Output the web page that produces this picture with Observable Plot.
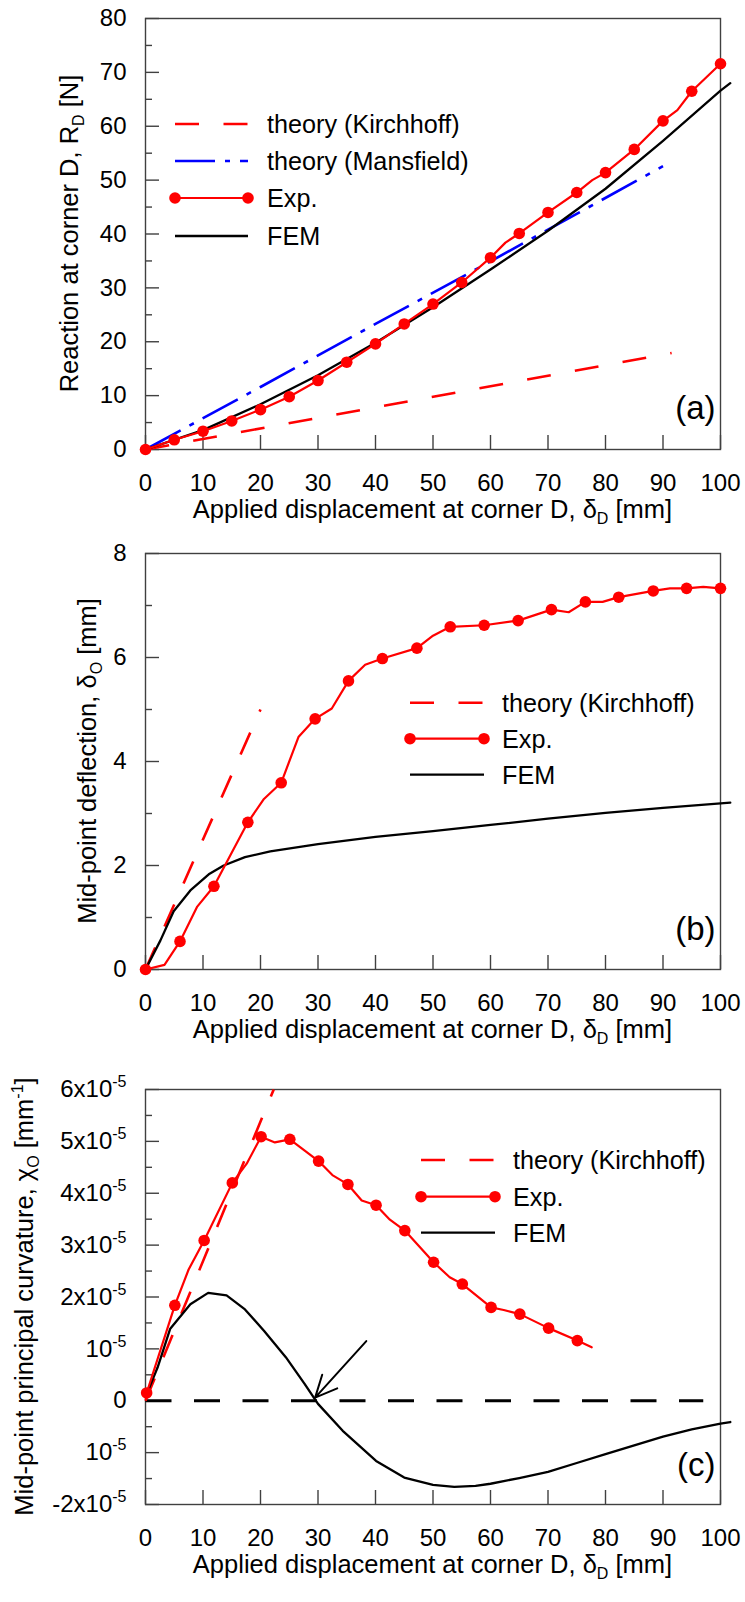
<!DOCTYPE html>
<html><head><meta charset="utf-8">
<script src="https://cdn.jsdelivr.net/npm/d3@7"></script>
<script src="https://cdn.jsdelivr.net/npm/@observablehq/plot@0.6"></script>
<style>
body{margin:0;background:#fff;}
svg{display:block;}
</style></head><body><div id="chart"></div>
<script>
// ---------------- data ----------------
const xTicks = [0,10,20,30,40,50,60,70,80,90,100];

// Panel (a): reaction at corner D [N]
const aYMajor = [0,10,20,30,40,50,60,70,80];
const aYMinor = [5,15,25,35,45,55,65,75];
const aExpX = [0,5,10,15,20,25,30,35,40,45,50,55,60,65,70,75,80,85,90,95,100];
const aExpY = [0,1.8,3.4,5.3,7.4,9.8,12.8,16.2,19.6,23.3,27.0,31.0,35.6,40.1,44.0,47.7,51.4,55.7,61.0,66.5,71.6];
const aExpLineX = [0,5,10,15,20,25,30,35,40,45,50,55,60,62.6,65,70,75,77.7,80,85,90,92.5,95,100];
const aExpLineY = [0,1.8,3.4,5.3,7.4,9.8,12.8,16.2,19.6,23.3,27.0,31.0,35.6,38.4,40.1,44.0,47.7,50.0,51.4,55.7,61.0,63.0,66.5,71.6];
const aFemX = [0,10,20,30,40,50,60,70,80,90,100,101.7];
const aFemY = [0,3.6,8.4,13.8,19.8,26.4,33.4,40.6,48.4,57.3,66.6,68.0];
const aMansX = [0,20,40,55,70,90];
const aMansY = [0,11.6,23.3,32.0,40.8,52.6];
const aKirchX = [0,91.5];
const aKirchY = [0,17.9];

// Panel (b): mid-point deflection [mm]
const bYMajor = [0,2,4,6,8];
const bYMinor = [1,3,5,7];
const bExpX = [0,6.0,11.9,17.8,23.6,29.5,35.3,41.2,47.2,53.0,58.9,64.8,70.6,76.5,82.3,88.3,94.1,100];
const bExpY = [0,0.54,1.60,2.83,3.59,4.82,5.55,5.98,6.18,6.59,6.62,6.71,6.92,7.07,7.16,7.28,7.33,7.33];
const bExpLineX = [0,3.3,6.0,9.0,11.9,17.8,20.6,23.6,26.6,29.5,32.4,35.3,38.2,41.2,47.2,50.0,53.0,58.9,64.8,70.6,73.6,76.5,79.5,82.3,88.3,91.2,94.1,97,100];
const bExpLineY = [0,0.09,0.54,1.21,1.60,2.83,3.28,3.59,4.47,4.82,5.02,5.55,5.86,5.98,6.18,6.42,6.59,6.62,6.71,6.92,6.87,7.07,7.07,7.16,7.28,7.33,7.33,7.36,7.33];
const bFemX = [0,2.6,4.9,7.8,11,13.6,17.3,21.7,30,40,50,60,70,80,90,101.7];
const bFemY = [0,0.56,1.12,1.52,1.83,2.0,2.16,2.27,2.41,2.55,2.66,2.78,2.90,3.01,3.11,3.21];
const bKirchX = [0,20];
const bKirchY = [0,5.0];

// Panel (c): mid-point principal curvature [x 1e-5 mm^-1]
const cYMajor = [-2,-1,0,1,2,3,4,5,6];
const cYMinor = [-1.5,-0.5,0.5,1.5,2.5,3.5,4.5,5.5];
const cYLabels = ["-2x10|-5","10|-5","0","10|-5","2x10|-5","3x10|-5","4x10|-5","5x10|-5","6x10|-5"];
const cExpX = [0.2,5.1,10.2,15.1,20.1,25.1,30.1,35.2,40.1,45.1,50.1,55.1,60.1,65.1,70.1,75.1];
const cExpY = [0.15,1.84,3.09,4.20,5.09,5.04,4.62,4.17,3.77,3.28,2.67,2.25,1.80,1.67,1.40,1.16];
const cExpLineX = [0.2,5.1,7.5,10.2,15.1,17.6,20.1,22.5,25.1,30.1,32.5,35.2,37.6,40.1,42.5,45.1,50.1,52.9,55.1,60.1,62.3,65.1,70.1,75.1,77.6];
const cExpLineY = [0.15,1.84,2.53,3.09,4.20,4.57,5.09,4.98,5.04,4.62,4.35,4.17,3.86,3.77,3.49,3.28,2.67,2.38,2.25,1.80,1.75,1.67,1.40,1.16,1.03];
const cFemX = [0.2,2.1,4.3,7.8,10.9,14.1,17.3,20.6,24.4,27.7,30.0,34.3,40.1,45.0,50,53.7,57.4,60,65,70,75,80,85,90,95,100,101.7];
const cFemY = [0.13,0.64,1.39,1.86,2.08,2.03,1.76,1.35,0.84,0.32,-0.06,-0.58,-1.16,-1.48,-1.62,-1.66,-1.64,-1.60,-1.49,-1.37,-1.20,-1.03,-0.86,-0.69,-0.55,-0.44,-0.41];
const cKirchX = [0,22.3];
const cKirchY = [0,6.0];
const cZeroX = [0,97];
const cZeroY = [0,0];
const cArrowFrom = [38.4,1.15];
const cArrowTo = [29.5,0.06];

// ---------------- styling ----------------
const FONT = "'Liberation Sans', Arial, Helvetica, sans-serif";
const RED = "#ff0000", BLUE = "#0000ff", BLACK = "#000000", AXIS = "#404040";
const MANS_DASH = "40,10,5,10";
const TICK_FS = 24, TITLE_FS = 25.5, LEG_FS = 25.2, LABEL_FS = 33, SUB_FS = 16;
const W = 745, ML = 145, MR = 25;

const pts = (xs, ys) => xs.map((x, i) => ({x, y: ys[i]}));

const S = {
  kirch: {stroke: RED, strokeWidth: 2.6, strokeDasharray: "24,24.5", strokeLinecap: "butt"},
  mans: {stroke: BLUE, strokeWidth: 2.6, strokeDasharray: MANS_DASH, strokeLinecap: "butt"},
  fem: {stroke: BLACK, strokeWidth: 2.3},
  exp: {stroke: RED, strokeWidth: 2.2},
  dot: {r: 5.8, fill: RED}
};

function panel({height, marginTop, marginBottom, yDomain, yMajor, yMinor, yFormat, label, labelDy, marks}) {
  const fw = W - ML - MR, fh = height - marginTop - marginBottom;
  return Plot.plot({
    width: W, height, marginLeft: ML, marginRight: MR, marginTop, marginBottom,
    style: {fontFamily: FONT, fontSize: TICK_FS + "px", color: "#000", background: "#fff", overflow: "visible"},
    x: {domain: [0, 100]},
    y: {domain: yDomain},
    marks: [
      Plot.frame({stroke: AXIS, strokeWidth: 1.4}),
      Plot.tickX(xTicks, {x: d => d, insetTop: fh - 14, stroke: AXIS, strokeWidth: 1.4}),
      Plot.tickY(yMajor, {y: d => d, insetRight: fw - 14, stroke: AXIS, strokeWidth: 1.4}),
      Plot.tickY(yMinor, {y: d => d, insetRight: fw - 7, stroke: AXIS, strokeWidth: 1.4}),
      Plot.axisX(xTicks, {tickSize: 0, tickPadding: 24, label: null, fontSize: TICK_FS}),
      Plot.axisY(yMajor, {tickSize: 0, tickPadding: 19, label: null, tickFormat: yFormat, fontSize: TICK_FS}),
      ...marks,
      Plot.text([label], {frameAnchor: "bottom-right", textAnchor: "end", dx: -5, dy: labelDy, fontSize: LABEL_FS})
    ]
  });
}

function richText(sel, parts) {
  let shift = 0;
  for (const [s, kind] of parts) {
    const ts = sel.append("tspan").text(s);
    const target = kind === "sub" ? 6 : kind === "sup" ? -10 : 0;
    if (target !== shift) ts.attr("dy", target - shift);
    shift = target;
    if (kind) ts.attr("font-size", SUB_FS);
  }
}

function titles(svg, {frameTop, frameBottom, yTitleX, yParts}) {
  const g = d3.select(svg).append("g").attr("font-family", FONT).attr("font-size", TITLE_FS)
    .attr("fill", "#000").attr("text-anchor", "middle");
  const xt = g.append("text").attr("x", (ML + W - MR) / 2).attr("y", frameBottom + 69);
  richText(xt, [["Applied displacement at corner D, δ"], ["D", "sub"], [" [mm]"]]);
  const yt = g.append("text")
    .attr("transform", `translate(${yTitleX},${(frameTop + frameBottom) / 2}) rotate(-90)`);
  richText(yt, yParts);
}

function legend(svg, items, {x1, x2, tx, ys}) {
  const g = d3.select(svg).append("g").attr("font-family", FONT).attr("font-size", LEG_FS)
    .attr("text-anchor", "start").attr("fill", "#000");
  items.forEach(([name, kind], i) => {
    const y = ys[i];
    const st = S[kind];
    g.append("line").attr("x1", x1).attr("x2", x2).attr("y1", y).attr("y2", y)
      .attr("stroke", st.stroke).attr("stroke-width", st.strokeWidth)
      .attr("stroke-dasharray", st.strokeDasharray || null).attr("stroke-linecap", "butt");
    if (kind === "exp") {
      [x1, x2].forEach(cx => g.append("circle").attr("cx", cx).attr("cy", y).attr("r", S.dot.r).attr("fill", RED));
    }
    g.append("text").attr("x", tx).attr("y", y).attr("dy", "0.36em").text(name);
  });
}

const root = document.getElementById("chart");

// ---- panel (a) ----
const svgA = panel({
  height: 528, marginTop: 18, marginBottom: 79, yDomain: [0, 80], yMajor: aYMajor, yMinor: aYMinor,
  yFormat: d => String(d), label: "(a)", labelDy: -31,
  marks: [
    Plot.line(pts(aKirchX, aKirchY), {x: "x", y: "y", ...S.kirch}),
    Plot.line(pts(aMansX, aMansY), {x: "x", y: "y", ...S.mans}),
    Plot.line(pts(aFemX, aFemY), {x: "x", y: "y", ...S.fem}),
    Plot.line(pts(aExpLineX, aExpLineY), {x: "x", y: "y", ...S.exp}),
    Plot.dot(pts(aExpX, aExpY), {x: "x", y: "y", ...S.dot})
  ]
});
root.append(svgA);
titles(svgA, {frameTop: 18, frameBottom: 449, yTitleX: 78,
  yParts: [["Reaction at corner D, R"], ["D", "sub"], [" [N]"]]});
legend(svgA, [["theory (Kirchhoff)", "kirch"], ["theory (Mansfield)", "mans"], ["Exp.", "exp"], ["FEM", "fem"]],
  {x1: 175, x2: 248, tx: 267, ys: [124, 161, 198, 236]});

// ---- panel (b) ----
const svgB = panel({
  height: 532, marginTop: 25, marginBottom: 91, yDomain: [0, 8], yMajor: bYMajor, yMinor: bYMinor,
  yFormat: d => String(d), label: "(b)", labelDy: -30,
  marks: [
    Plot.line(pts(bKirchX, bKirchY), {x: "x", y: "y", ...S.kirch, strokeDasharray: "24,23"}),
    Plot.line(pts(bFemX, bFemY), {x: "x", y: "y", ...S.fem}),
    Plot.line(pts(bExpLineX, bExpLineY), {x: "x", y: "y", ...S.exp}),
    Plot.dot(pts(bExpX, bExpY), {x: "x", y: "y", ...S.dot})
  ]
});
root.append(svgB);
titles(svgB, {frameTop: 25, frameBottom: 441, yTitleX: 96,
  yParts: [["Mid-point deflection, δ"], ["O", "sub"], [" [mm]"]]});
legend(svgB, [["theory (Kirchhoff)", "kirch"], ["Exp.", "exp"], ["FEM", "fem"]],
  {x1: 410, x2: 484, tx: 502, ys: [174.7, 210.7, 246.7]});

// ---- panel (c) ----
const cLabelMap = new Map(cYMajor.map((v, i) => [v, cYLabels[i]]));
const svgC = panel({
  height: 542, marginTop: 29, marginBottom: 98, yDomain: [-2, 6], yMajor: cYMajor, yMinor: cYMinor,
  yFormat: d => cLabelMap.get(d), label: "(c)", labelDy: -29,
  marks: [
    Plot.line(pts(cZeroX, cZeroY), {x: "x", y: "y", stroke: BLACK, strokeWidth: 3, strokeDasharray: "26,22.5", strokeLinecap: "butt"}),
    Plot.line(pts(cKirchX, cKirchY), {x: "x", y: "y", ...S.kirch, strokeDasharray: "24,23"}),
    Plot.line(pts(cFemX, cFemY), {x: "x", y: "y", ...S.fem}),
    Plot.line(pts(cExpLineX, cExpLineY), {x: "x", y: "y", ...S.exp}),
    Plot.dot(pts(cExpX, cExpY), {x: "x", y: "y", ...S.dot}),
    Plot.arrow([{x1: cArrowFrom[0], y1: cArrowFrom[1], x2: cArrowTo[0], y2: cArrowTo[1]}],
      {x1: "x1", y1: "y1", x2: "x2", y2: "y2", stroke: BLACK, strokeWidth: 2, headLength: 18, headAngle: 50})
  ]
});
root.append(svgC);
// superscripts in the curvature tick labels
d3.select(svgC).selectAll('g[aria-label="y-axis tick label"] text').each(function() {
  const s = this.textContent;
  if (!s.includes("|")) return;
  const [base, sup] = s.split("|");
  const t = d3.select(this);
  t.text("");
  t.append("tspan").text(base);
  t.append("tspan").attr("dy", -10).attr("font-size", SUB_FS).text(sup);
});
titles(svgC, {frameTop: 29, frameBottom: 444, yTitleX: 33,
  yParts: [["Mid-point principal curvature, χ"], ["O", "sub"], [" [mm"], ["-1", "sup"], ["]"]]});
legend(svgC, [["theory (Kirchhoff)", "kirch"], ["Exp.", "exp"], ["FEM", "fem"]],
  {x1: 421, x2: 495, tx: 513, ys: [100, 136.7, 172.7]});
</script></body></html>
